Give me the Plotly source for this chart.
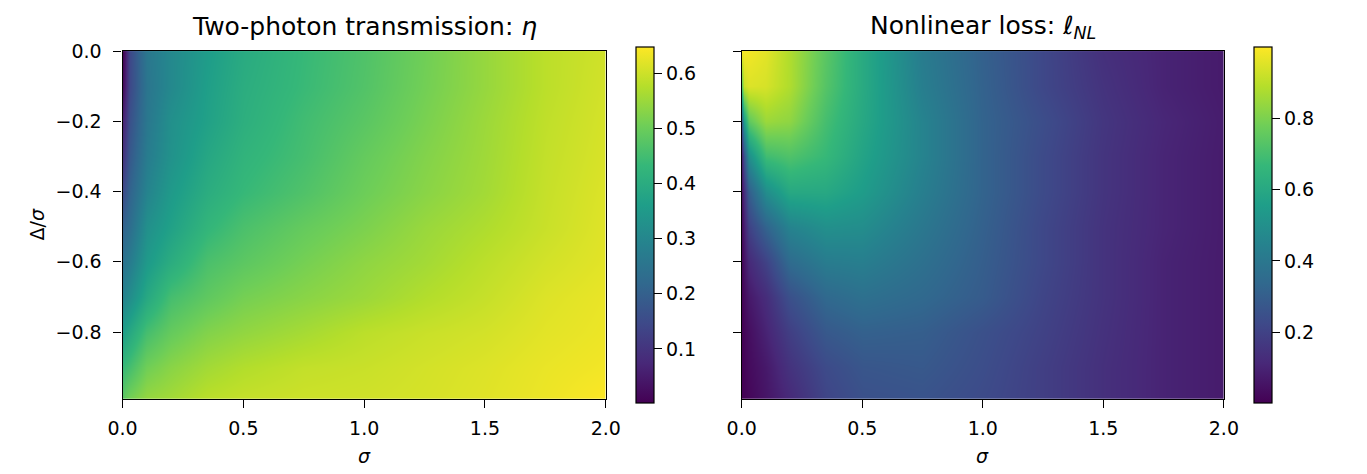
import plotly.graph_objects as go

# sigma grid (columns) and Delta/sigma grid (rows)
sigma = [0, 0.01, 0.03, 0.1, 0.2, 0.35, 0.5, 0.75, 1.0, 1.25, 1.5, 1.75, 2.0]
delta = [0, -0.1, -0.2, -0.3, -0.4, -0.5, -0.6, -0.7, -0.8, -0.9, -0.99]

# Two-photon transmission eta (rows follow delta)
eta = [
    [0.002, 0.034, 0.144, 0.260, 0.306, 0.357, 0.396, 0.435, 0.467, 0.506, 0.545, 0.583, 0.603],
    [0.015, 0.047, 0.144, 0.254, 0.306, 0.364, 0.403, 0.438, 0.470, 0.509, 0.545, 0.583, 0.606],
    [0.060, 0.086, 0.164, 0.260, 0.325, 0.370, 0.409, 0.448, 0.480, 0.516, 0.551, 0.587, 0.609],
    [0.092, 0.118, 0.183, 0.273, 0.331, 0.386, 0.422, 0.454, 0.493, 0.525, 0.554, 0.590, 0.612],
    [0.144, 0.164, 0.209, 0.293, 0.351, 0.403, 0.435, 0.467, 0.503, 0.532, 0.558, 0.593, 0.616],
    [0.202, 0.215, 0.235, 0.325, 0.370, 0.428, 0.461, 0.493, 0.519, 0.548, 0.570, 0.596, 0.619],
    [0.241, 0.254, 0.273, 0.351, 0.403, 0.461, 0.483, 0.512, 0.538, 0.558, 0.583, 0.606, 0.622],
    [0.286, 0.299, 0.319, 0.390, 0.454, 0.487, 0.512, 0.532, 0.551, 0.574, 0.593, 0.616, 0.629],
    [0.357, 0.370, 0.390, 0.454, 0.493, 0.525, 0.541, 0.561, 0.583, 0.596, 0.606, 0.622, 0.632],
    [0.435, 0.441, 0.454, 0.506, 0.532, 0.558, 0.574, 0.590, 0.596, 0.606, 0.616, 0.629, 0.638],
    [0.480, 0.493, 0.512, 0.545, 0.558, 0.583, 0.593, 0.600, 0.603, 0.609, 0.619, 0.632, 0.648],
]

# Nonlinear loss l_NL (rows follow delta)
loss = [
    [0.990, 0.990, 0.985, 0.960, 0.880, 0.740, 0.610, 0.420, 0.310, 0.220, 0.140, 0.100, 0.075],
    [0.750, 0.920, 0.950, 0.940, 0.880, 0.730, 0.610, 0.430, 0.315, 0.220, 0.150, 0.100, 0.075],
    [0.300, 0.550, 0.750, 0.850, 0.830, 0.700, 0.600, 0.450, 0.320, 0.240, 0.160, 0.110, 0.080],
    [0.100, 0.250, 0.500, 0.690, 0.720, 0.670, 0.580, 0.450, 0.320, 0.230, 0.155, 0.105, 0.078],
    [0.050, 0.130, 0.300, 0.490, 0.600, 0.600, 0.550, 0.430, 0.320, 0.230, 0.155, 0.105, 0.078],
    [0.030, 0.080, 0.200, 0.320, 0.450, 0.500, 0.490, 0.400, 0.310, 0.220, 0.150, 0.105, 0.078],
    [0.015, 0.050, 0.120, 0.200, 0.350, 0.420, 0.430, 0.370, 0.300, 0.220, 0.150, 0.100, 0.077],
    [0.008, 0.030, 0.070, 0.130, 0.250, 0.340, 0.370, 0.340, 0.290, 0.210, 0.150, 0.100, 0.077],
    [0.004, 0.015, 0.040, 0.100, 0.190, 0.280, 0.310, 0.300, 0.250, 0.200, 0.145, 0.100, 0.077],
    [0.003, 0.010, 0.030, 0.070, 0.150, 0.230, 0.270, 0.280, 0.240, 0.190, 0.140, 0.100, 0.077],
    [0.002, 0.006, 0.020, 0.060, 0.120, 0.210, 0.250, 0.260, 0.230, 0.190, 0.140, 0.100, 0.077],
]

eta_ticks = [0.1, 0.2, 0.3, 0.4, 0.5, 0.6]
loss_ticks = [0.2, 0.4, 0.6, 0.8]
x_ticks = [0.0, 0.5, 1.0, 1.5, 2.0]
y_ticks = [0.0, -0.2, -0.4, -0.6, -0.8]

W, H = 1367, 474
FONT = "DejaVu Sans"
TICK = 19
TITLE = 25

def px(x):
    return x / W

def py(y):
    return 1 - y / H

top, bot = 41, 397
L1, R1 = 110, 604
L2, R2 = 743, 1236
CB1, CB2 = 635, 1267
TL = 8

cb_common = dict(
    thickness=18, thicknessmode="pixels",
    len=bot - top, lenmode="pixels",
    y=py((top + bot) / 2), yanchor="middle",
    xanchor="left", xpad=0, ypad=0,
    outlinecolor="black", outlinewidth=1.2,
    ticks="outside", ticklen=TL, tickwidth=1.2, tickcolor="black",
    tickfont=dict(family=FONT, size=TICK, color="black"),
    tickformat=".1f",
)

fig = go.Figure()
fig.add_trace(go.Heatmap(
    x=sigma, y=delta, z=eta, colorscale="Viridis", zsmooth="best",
    zmin=0.002, zmax=0.648, xaxis="x", yaxis="y",
    colorbar=dict(x=px(CB1), tickvals=eta_ticks, **cb_common),
))
fig.add_trace(go.Heatmap(
    x=sigma, y=delta, z=loss, colorscale="Viridis", zsmooth="best",
    zmin=0.002, zmax=1.0, xaxis="x2", yaxis="y2",
    colorbar=dict(x=px(CB2), tickvals=loss_ticks, **cb_common),
))

ax_common = dict(
    showline=True, linecolor="black", linewidth=1.2, mirror=True,
    ticks="outside", ticklen=TL, tickwidth=1.2, tickcolor="black",
    showgrid=False, zeroline=False,
    tickfont=dict(family=FONT, size=TICK, color="black"),
)

fig.update_layout(
    width=W, height=H,
    margin=dict(l=0, r=0, t=0, b=0),
    paper_bgcolor="white", plot_bgcolor="white",
    font=dict(family=FONT, color="black"),
    xaxis=dict(domain=[px(L1), px(R1)], range=[0, 2], tickvals=x_ticks,
               tickformat=".1f", anchor="y", ticklabelstandoff=4, **ax_common),
    yaxis=dict(domain=[py(bot), py(top)], range=[-0.99, 0], tickvals=y_ticks,
               tickformat=".1f", anchor="x", ticklabelstandoff=8, **ax_common),
    xaxis2=dict(domain=[px(L2), px(R2)], range=[0, 2], tickvals=x_ticks,
                tickformat=".1f", anchor="y2", ticklabelstandoff=4, **ax_common),
    yaxis2=dict(domain=[py(bot), py(top)], range=[-0.99, 0], tickvals=y_ticks,
                showticklabels=False, anchor="x2", **ax_common),
    annotations=[
        dict(text="Two-photon transmission: <i>η</i>", x=px((L1 + R1) / 2), y=py(16),
             xref="paper", yref="paper", showarrow=False, xanchor="center", yanchor="middle",
             font=dict(family=FONT, size=TITLE, color="black")),
        dict(text="Nonlinear loss: <i>ℓ</i><sub><i>NL</i></sub>", x=px((L2 + R2) / 2), y=py(16),
             xref="paper", yref="paper", showarrow=False, xanchor="center", yanchor="middle",
             font=dict(family=FONT, size=TITLE, color="black")),
        dict(text="<i>σ</i>", x=px((L1 + R1) / 2), y=py(456),
             xref="paper", yref="paper", showarrow=False, xanchor="center", yanchor="middle",
             font=dict(family=FONT, size=TICK, color="black")),
        dict(text="<i>σ</i>", x=px((L2 + R2) / 2), y=py(456),
             xref="paper", yref="paper", showarrow=False, xanchor="center", yanchor="middle",
             font=dict(family=FONT, size=TICK, color="black")),
        dict(text="Δ/<i>σ</i>", x=px(22), y=py((top + bot) / 2), textangle=-90,
             xref="paper", yref="paper", showarrow=False, xanchor="center", yanchor="middle",
             font=dict(family=FONT, size=TICK, color="black")),
    ],
)

post = (
    "document.documentElement.style.margin='0';"
    "document.documentElement.style.overflow='hidden';"
    "document.body.style.margin='0';"
    "document.body.style.overflow='hidden';"
)
fig.write_html("out.html", config={"displayModeBar": False}, post_script=post)
